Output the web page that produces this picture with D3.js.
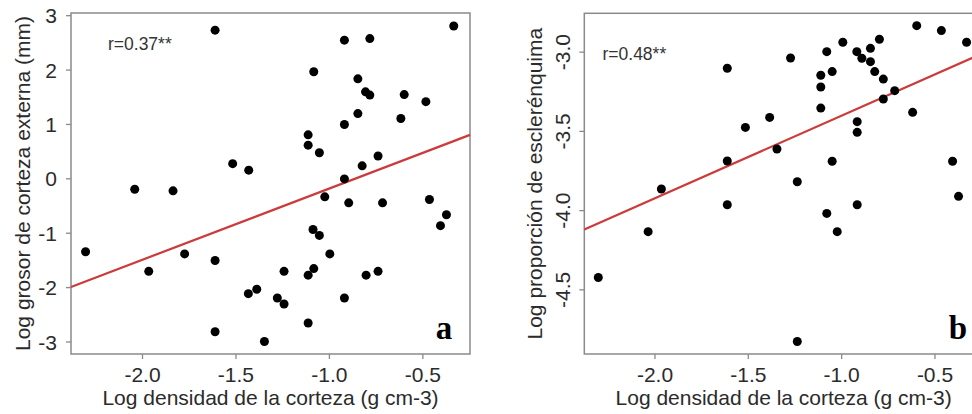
<!DOCTYPE html>
<html>
<head>
<meta charset="utf-8">
<script src="https://cdn.jsdelivr.net/npm/d3@7"></script>
<style>
  body { margin: 0; background: #fff; }
  svg { display: block; font-family: "Liberation Sans", Arial, sans-serif; }
</style>
</head>
<body>
<div id="chart"></div>
<script>
// panel a: log bark density vs log outer bark thickness
const densityA = [-2.302, -2.039, -1.964, -1.834, -1.772, -1.609, -1.609, -1.609, -1.515, -1.429,
  -1.431, -1.386, -1.345, -1.276, -1.240, -1.240, -1.111, -1.111, -1.111, -1.111,
  -1.081, -1.085, -1.081, -1.051, -1.051, -1.022, -0.995, -0.917, -0.917, -0.917,
  -0.917, -0.894, -0.845, -0.845, -0.822, -0.804, -0.781, -0.801, -0.781, -0.737,
  -0.737, -0.713, -0.615, -0.597, -0.481, -0.462, -0.403, -0.371, -0.332];
const thicknessA = [-1.35, -0.20, -1.71, -0.23, -1.39, 2.725, -1.51, -2.82, 0.27, 0.15,
  -2.12, -2.04, -3.0, -2.20, -1.71, -2.31, 0.80, 0.61, -1.78, -2.66,
  1.96, -0.94, -1.66, 0.47, -1.05, -0.34, -1.39, 2.54, 0.99, -0.01,
  -2.20, -0.45, 1.83, 1.19, 0.23, 1.59, 1.53, -1.78, 2.57, 0.41,
  -1.71, -0.45, 1.10, 1.54, 1.41, -0.39, -0.87, -0.67, 2.80];

// panel b: log bark density vs log sclerenchyma proportion
const densityB = [-2.301, -2.034, -1.963, -1.610, -1.610, -1.610, -1.513, -1.383, -1.344, -1.271,
  -1.235, -1.235, -1.109, -1.109, -1.109, -1.077, -1.077, -1.048, -1.048, -1.021,
  -0.991, -0.916, -0.914, -0.914, -0.914, -0.889, -0.843, -0.843, -0.820, -0.795,
  -0.774, -0.774, -0.713, -0.617, -0.595, -0.463, -0.403, -0.371, -0.328];
const scleroB = [-4.425, -4.136, -3.867, -3.105, -3.690, -3.966, -3.478, -3.415, -3.614, -3.040,
  -3.821, -4.829, -3.149, -3.223, -3.356, -3.000, -4.021, -3.126, -3.692, -4.136,
  -2.941, -3.000, -3.442, -3.509, -3.966, -3.042, -2.979, -3.063, -3.126, -2.922,
  -3.173, -3.299, -3.246, -3.383, -2.836, -2.867, -3.692, -3.913, -2.941];

const xTicks = [-2.0, -1.5, -1.0, -0.5];
const yTicksA = [-3, -2, -1, 0, 1, 2, 3];
const yTicksB = [-4.5, -4.0, -3.5, -3.0];

// fitted lines: y = intercept + slope * x
const fitA = { intercept: 1.12, slope: 1.31 };
const fitB = { intercept: -2.884, slope: 0.521 };

const labels = {
  x: "Log densidad de la corteza (g cm-3)",
  yA: "Log grosor de corteza externa (mm)",
  yB: "Log proporción de esclerénquima",
  rA: "r=0.37**",
  rB: "r=0.48**",
};

const svg = d3.select("#chart").append("svg")
  .attr("width", 972)
  .attr("height", 414);

function panel(opts) {
  const { left, right, top, bottom, xDomain, yDomain, xs, ys, yTicks, yFormat,
    rotateY, fit, yTitle, yTitleX, rText, rX, rY, letter, letterX } = opts;

  const x = d3.scaleLinear().domain(xDomain).range([left, right]);
  const y = d3.scaleLinear().domain(yDomain).range([bottom, top]);

  const g = svg.append("g");

  // box
  g.append("rect")
    .attr("x", left).attr("y", top)
    .attr("width", right - left).attr("height", bottom - top)
    .attr("fill", "none").attr("stroke", "#8a8a8a").attr("stroke-width", 1.5);

  const xAxis = g.append("g")
    .attr("transform", `translate(0,${bottom})`)
    .call(d3.axisBottom(x).tickValues(xTicks).tickSize(5).tickFormat(d3.format(".1f")));
  xAxis.select(".domain").remove();
  xAxis.selectAll("line").attr("stroke", "#8a8a8a").attr("stroke-width", 1.3);
  xAxis.selectAll("text")
    .attr("y", 27.5).attr("dy", 0)
    .attr("fill", "#2b2b2b")
    .style("font-size", "21px")
    .text((d) => d3.format(".1f")(d).replace("−", "-"));

  const yAxis = g.append("g")
    .attr("transform", `translate(${left},0)`)
    .call(d3.axisLeft(y).tickValues(yTicks).tickSize(5));
  yAxis.select(".domain").remove();
  yAxis.selectAll("line").attr("stroke", "#8a8a8a").attr("stroke-width", 1.3);
  const yt = yAxis.selectAll("text")
    .attr("fill", "#2b2b2b")
    .style("font-size", "21px")
    .text((d) => yFormat(d).replace("−", "-"));
  if (rotateY) {
    yt.attr("x", 0).attr("y", 0).attr("dy", 0)
      .attr("text-anchor", "middle")
      .attr("transform", "translate(-14,0) rotate(-90)");
  } else {
    yt.attr("x", -14).attr("dy", "0.36em");
  }

  // regression line
  g.append("line")
    .attr("x1", x(xDomain[0])).attr("y1", y(fit.intercept + fit.slope * xDomain[0]))
    .attr("x2", x(xDomain[1])).attr("y2", y(fit.intercept + fit.slope * xDomain[1]))
    .attr("stroke", "#cc3b3b").attr("stroke-width", 2.2);

  g.selectAll("circle.pt")
    .data(xs.map((d, i) => [d, ys[i]]))
    .enter()
    .append("circle")
    .attr("class", "pt")
    .attr("cx", (d) => x(d[0]))
    .attr("cy", (d) => y(d[1]))
    .attr("r", 4.5)
    .attr("fill", "#000");

  g.append("text")
    .attr("x", rX).attr("y", rY)
    .attr("fill", "#333")
    .style("font-size", "17.5px")
    .text(rText);

  g.append("text")
    .attr("x", letterX).attr("y", 339)
    .attr("text-anchor", "middle")
    .style("font-family", "'Liberation Serif', 'Times New Roman', serif")
    .style("font-weight", "bold")
    .style("font-size", "33px")
    .attr("fill", "#000")
    .text(letter);

  g.append("text")
    .attr("x", (left + right) / 2).attr("y", 404.5)
    .attr("text-anchor", "middle")
    .attr("fill", "#2b2b2b")
    .style("font-size", "21px")
    .text(labels.x);

  g.append("text")
    .attr("transform", `translate(${yTitleX},${(top + bottom) / 2}) rotate(-90)`)
    .attr("text-anchor", "middle")
    .attr("fill", "#2b2b2b")
    .style("font-size", "21px")
    .text(yTitle);
}

panel({
  left: 71, right: 470, top: 13, bottom: 354,
  xDomain: [-2.38, -0.245], yDomain: [-3.23, 3.04],
  xs: densityA, ys: thicknessA,
  yTicks: yTicksA, yFormat: d3.format("d"), rotateY: false,
  fit: fitA, yTitle: labels.yA, yTitleX: 30,
  rText: labels.rA, rX: 108, rY: 50,
  letter: "a", letterX: 444,
});

panel({
  left: 584.3, right: 983, top: 13.3, bottom: 354,
  xDomain: [-2.376, -0.24], yDomain: [-4.908, -2.758],
  xs: densityB, ys: scleroB,
  yTicks: yTicksB, yFormat: d3.format(".1f"), rotateY: true,
  fit: fitB, yTitle: labels.yB, yTitleX: 542,
  rText: labels.rB, rX: 602.5, rY: 60,
  letter: "b", letterX: 958,
});
</script>
</body>
</html>
